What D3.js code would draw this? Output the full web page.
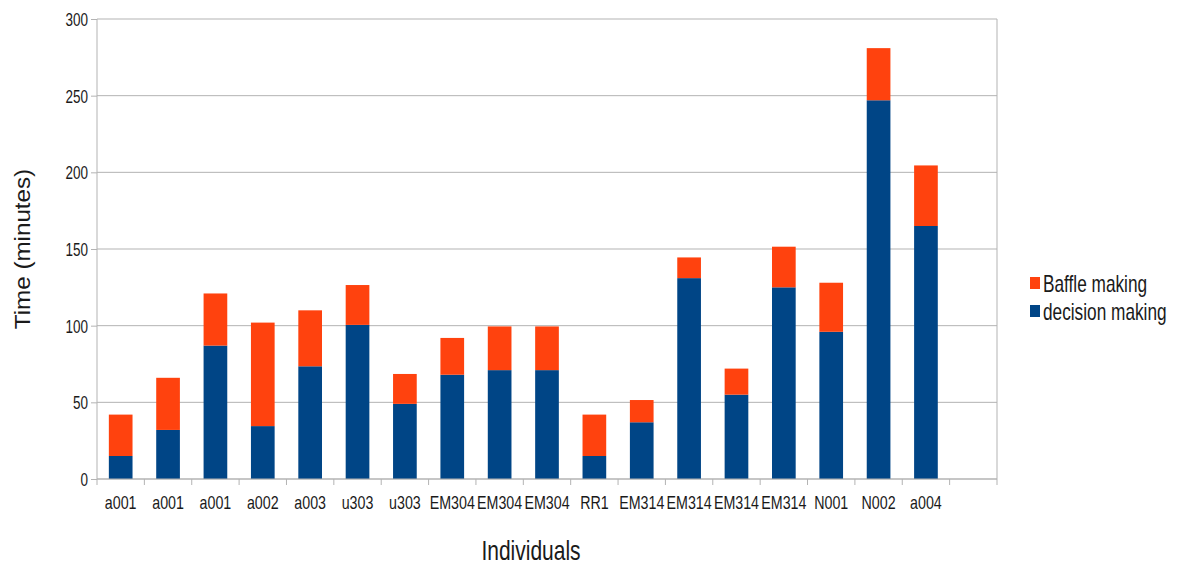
<!DOCTYPE html>
<html><head><meta charset="utf-8">
<script src="https://cdn.jsdelivr.net/npm/d3@7"></script>
<style>
body{margin:0;background:#fff;}
text{font-family:"Liberation Sans",Arial,sans-serif;fill:#1a1a1a;}
</style></head>
<body><svg id="c" width="1178" height="565"></svg>
<script>
const categories = ["a001","a001","a001","a002","a003","u303","u303","EM304","EM304","EM304","RR1","EM314","EM314","EM314","EM314","N001","N002","a004",""];
const decisionMaking = [15,32,87,34.5,73.5,100.5,49,68,71,71,15,37,131,55,125,96,247,165,0];
const baffleMaking   = [27,34,34,67.5,36.5,26,19.5,24,28.5,28.5,27,14.5,13.5,17,26.5,32,34,39.5,0];
const yTicks = [0,50,100,150,200,250,300];
const seriesNames = ["Baffle making","decision making"];
const colors = {"Baffle making":"#ff420e","decision making":"#004586"};

const svg = d3.select("#c");
const m = {l:97, r:997, t:19, b:479};
const SX = 0.75;
const x = d3.scaleBand().domain(d3.range(categories.length)).range([m.l,m.r]).paddingInner(0.5).paddingOuter(0.25);
const xs = d3.scaleBand().domain(d3.range(categories.length)).range([m.l,m.r]);
const y = d3.scaleLinear().domain([0,300]).range([m.b,m.t]);

// gridlines
svg.append("g").selectAll("line").data(yTicks).join("line")
  .attr("x1",m.l).attr("x2",m.r).attr("y1",d=>y(d)).attr("y2",d=>y(d))
  .attr("stroke","#b3b3b3").attr("stroke-width",1);
svg.append("line").attr("x1",m.r).attr("x2",m.r).attr("y1",m.t).attr("y2",m.b).attr("stroke","#b3b3b3");

// bars
const rows = categories.map((c,i)=>({i, d:decisionMaking[i], b:baffleMaking[i]}));
const g = svg.append("g");
g.selectAll("rect.d").data(rows).join("rect").attr("class","d")
  .attr("x",r=>x(r.i)).attr("width",x.bandwidth())
  .attr("y",r=>y(r.d)).attr("height",r=>y(0)-y(r.d)).attr("fill",colors["decision making"]);
g.selectAll("rect.b").data(rows).join("rect").attr("class","b")
  .attr("x",r=>x(r.i)).attr("width",x.bandwidth())
  .attr("y",r=>y(r.d+r.b)).attr("height",r=>y(r.d)-y(r.d+r.b)).attr("fill",colors["Baffle making"]);

// y axis
const ya = svg.append("g").attr("transform",`translate(${m.l},0)`)
  .call(d3.axisLeft(y).tickValues(yTicks).tickSize(6).tickFormat(()=>""));
ya.select(".domain").attr("stroke","#b3b3b3").attr("d",`M0,${m.t}V${m.b}`);
ya.selectAll(".tick line").attr("stroke","#b3b3b3");
ya.selectAll(".tick").append("text")
  .attr("transform",`translate(-9,6.5) scale(${SX},1)`).attr("text-anchor","end")
  .style("font-size","18px").text(d=>d);

// x axis
const xa = svg.append("g").attr("transform",`translate(0,${m.b})`);
xa.append("line").attr("x1",m.l).attr("x2",m.r).attr("stroke","#b3b3b3");
xa.selectAll("line.t").data(d3.range(categories.length+1)).join("line").attr("class","t")
  .attr("x1",i=>m.l+i*xs.step()).attr("x2",i=>m.l+i*xs.step()).attr("y1",0).attr("y2",6).attr("stroke","#b3b3b3");
xa.selectAll("text").data(categories).join("text")
  .attr("transform",(c,i)=>`translate(${xs(i)+xs.bandwidth()/2},30) scale(${SX},1)`).attr("text-anchor","middle")
  .style("font-size","19px").text(c=>c);

// axis titles
svg.append("text").attr("transform","translate(30,249) rotate(-90) scale(1.1,1)").attr("text-anchor","middle")
  .style("font-size","22px").text("Time (minutes)");
svg.append("text").attr("transform",`translate(531,560) scale(${SX},1)`).attr("text-anchor","middle")
  .style("font-size","28px").text("Individuals");

// legend
const lg = svg.append("g").attr("transform","translate(1030,292)");
seriesNames.forEach((s,k)=>{
  const row = lg.append("g").attr("transform",`translate(0,${k*28})`);
  row.append("rect").attr("x",0).attr("y",-15).attr("width",10).attr("height",12).attr("fill",colors[s]);
  row.append("text").attr("transform",`translate(13,0) scale(${SX},1)`).style("font-size","23px").text(s);
});
</script></body></html>
